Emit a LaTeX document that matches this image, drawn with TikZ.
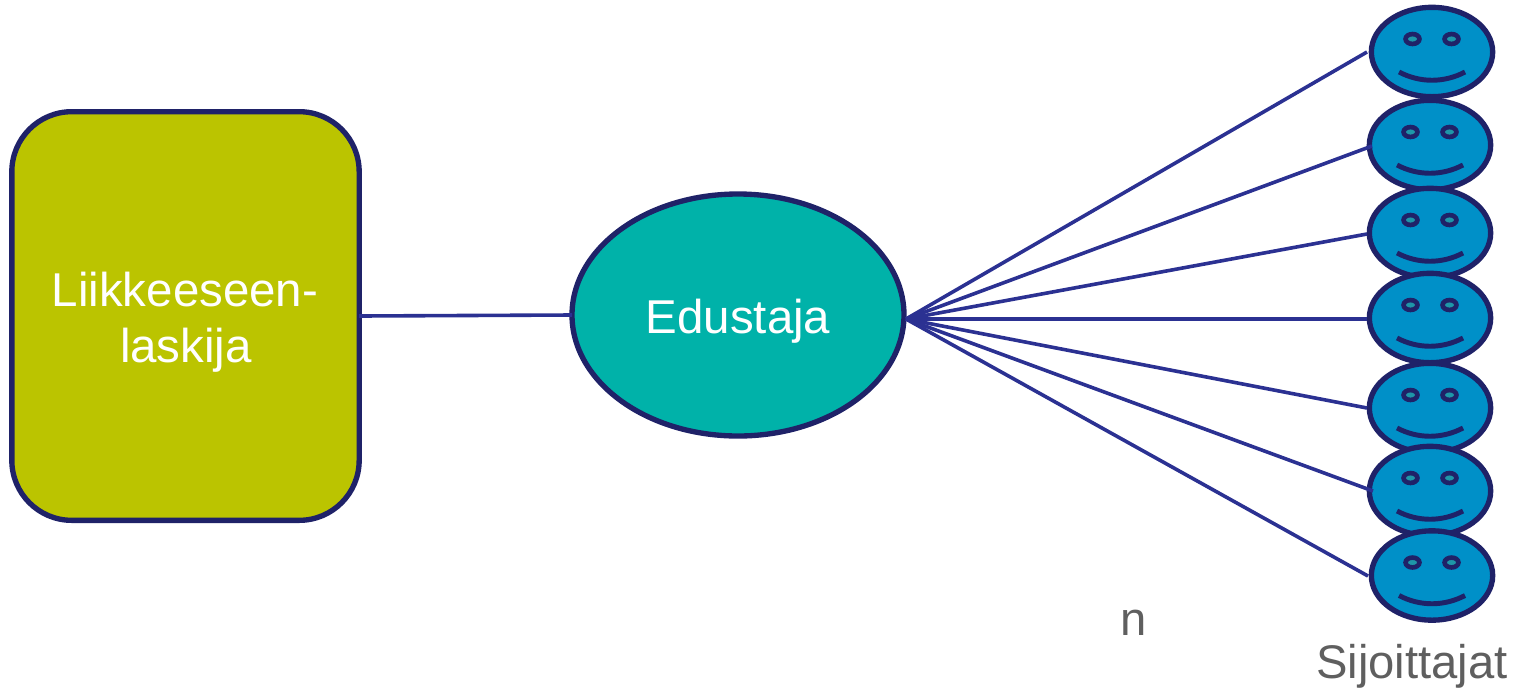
\documentclass[tikz,border=0pt]{standalone}
\usepackage{fontspec}
\setmainfont{Liberation Sans}
\usetikzlibrary{shapes.geometric}
\definecolor{edge}{HTML}{1F2268}
\definecolor{wire}{HTML}{2B3192}
\definecolor{olive}{HTML}{BBC400}
\definecolor{teal2}{HTML}{00B2A9}
\definecolor{faceblue}{HTML}{0090C8}
\definecolor{eyeteal}{HTML}{1E97A8}
\definecolor{greytext}{HTML}{5F5F5F}
\tikzset{
  x=0.75pt,y=-0.75pt,
  issuerbox/.style={draw=edge,fill=olive,line width=4pt,rounded corners=45pt,minimum width=260.5pt,minimum height=306.5pt,inner sep=0pt,outer sep=0pt},
  agentoval/.style={ellipse,draw=edge,fill=teal2,line width=4pt,minimum width=249pt,minimum height=181.5pt,inner sep=0pt,outer sep=0pt},
  facehead/.style={ellipse,draw=edge,fill=faceblue,line width=4pt,minimum width=91pt,minimum height=67pt,inner sep=0pt,outer sep=0pt},
  whitelabel/.style={text=white,font=\fontsize{35.6pt}{42pt}\selectfont,anchor=base,inner sep=0pt},
  greylabel/.style={text=greytext,font=\fontsize{35.4pt}{42pt}\selectfont,anchor=base,inner sep=0pt},
  wireline/.style={draw=wire,line width=2.7pt},
  eyeshape/.style={draw=edge,fill=eyeteal,line width=3.5pt},
  smileshape/.style={draw=edge,line width=3.7pt}
}
\newcommand{\smiley}[3]{%
  \node[facehead] (#1) at (#2,#3) {};
  \path[eyeshape] (#2-19.5,#3-13) ellipse [x radius=5.2pt,y radius=3.7pt];
  \path[eyeshape] (#2+19.5,#3-13) ellipse [x radius=5.2pt,y radius=3.7pt];
  \path[smileshape] (#2-33,#3+20) .. controls (#2-12,#3+31) and (#2+12,#3+31) .. (#2+33,#3+20);
}
\begin{document}
\begin{tikzpicture}
\useasboundingbox (0,0) rectangle (1515,690);
\node[issuerbox] (issuer) at (185.5,316) {};
\node[agentoval] (agent) at (738,315) {};
\node[whitelabel] (l1) at (185,306) {Liikkeeseen-};
\node[whitelabel] (l2) at (186,362) {laskija};
\node[whitelabel] (l3) at (738,333) {Edustaja};
\smiley{f1}{1432}{52}
\smiley{f2}{1430}{145}
\smiley{f3}{1430}{233}
\smiley{f4}{1430}{318}
\smiley{f5}{1430}{408}
\smiley{f6}{1430}{491}
\smiley{f7}{1432}{575.5}
\node[greylabel] (n) at (1134,635) {n};
\node[greylabel] (inv) at (1412,678) {Sijoittajat};
\coordinate (hub) at (906,319);
\coordinate (e1) at (1367,52);
\coordinate (e2) at (1372,146);
\coordinate (e3) at (1367,234);
\coordinate (e4) at (1367,319);
\coordinate (e5) at (1367,408);
\coordinate (e6) at (1373,491);
\coordinate (e7) at (1368,576);
\draw[wireline] (issuer.east) -- (agent.west);
\foreach \t in {e1,e2,e3,e4,e5,e6,e7} \draw[wireline] (hub) -- (\t);
\end{tikzpicture}
\end{document}
